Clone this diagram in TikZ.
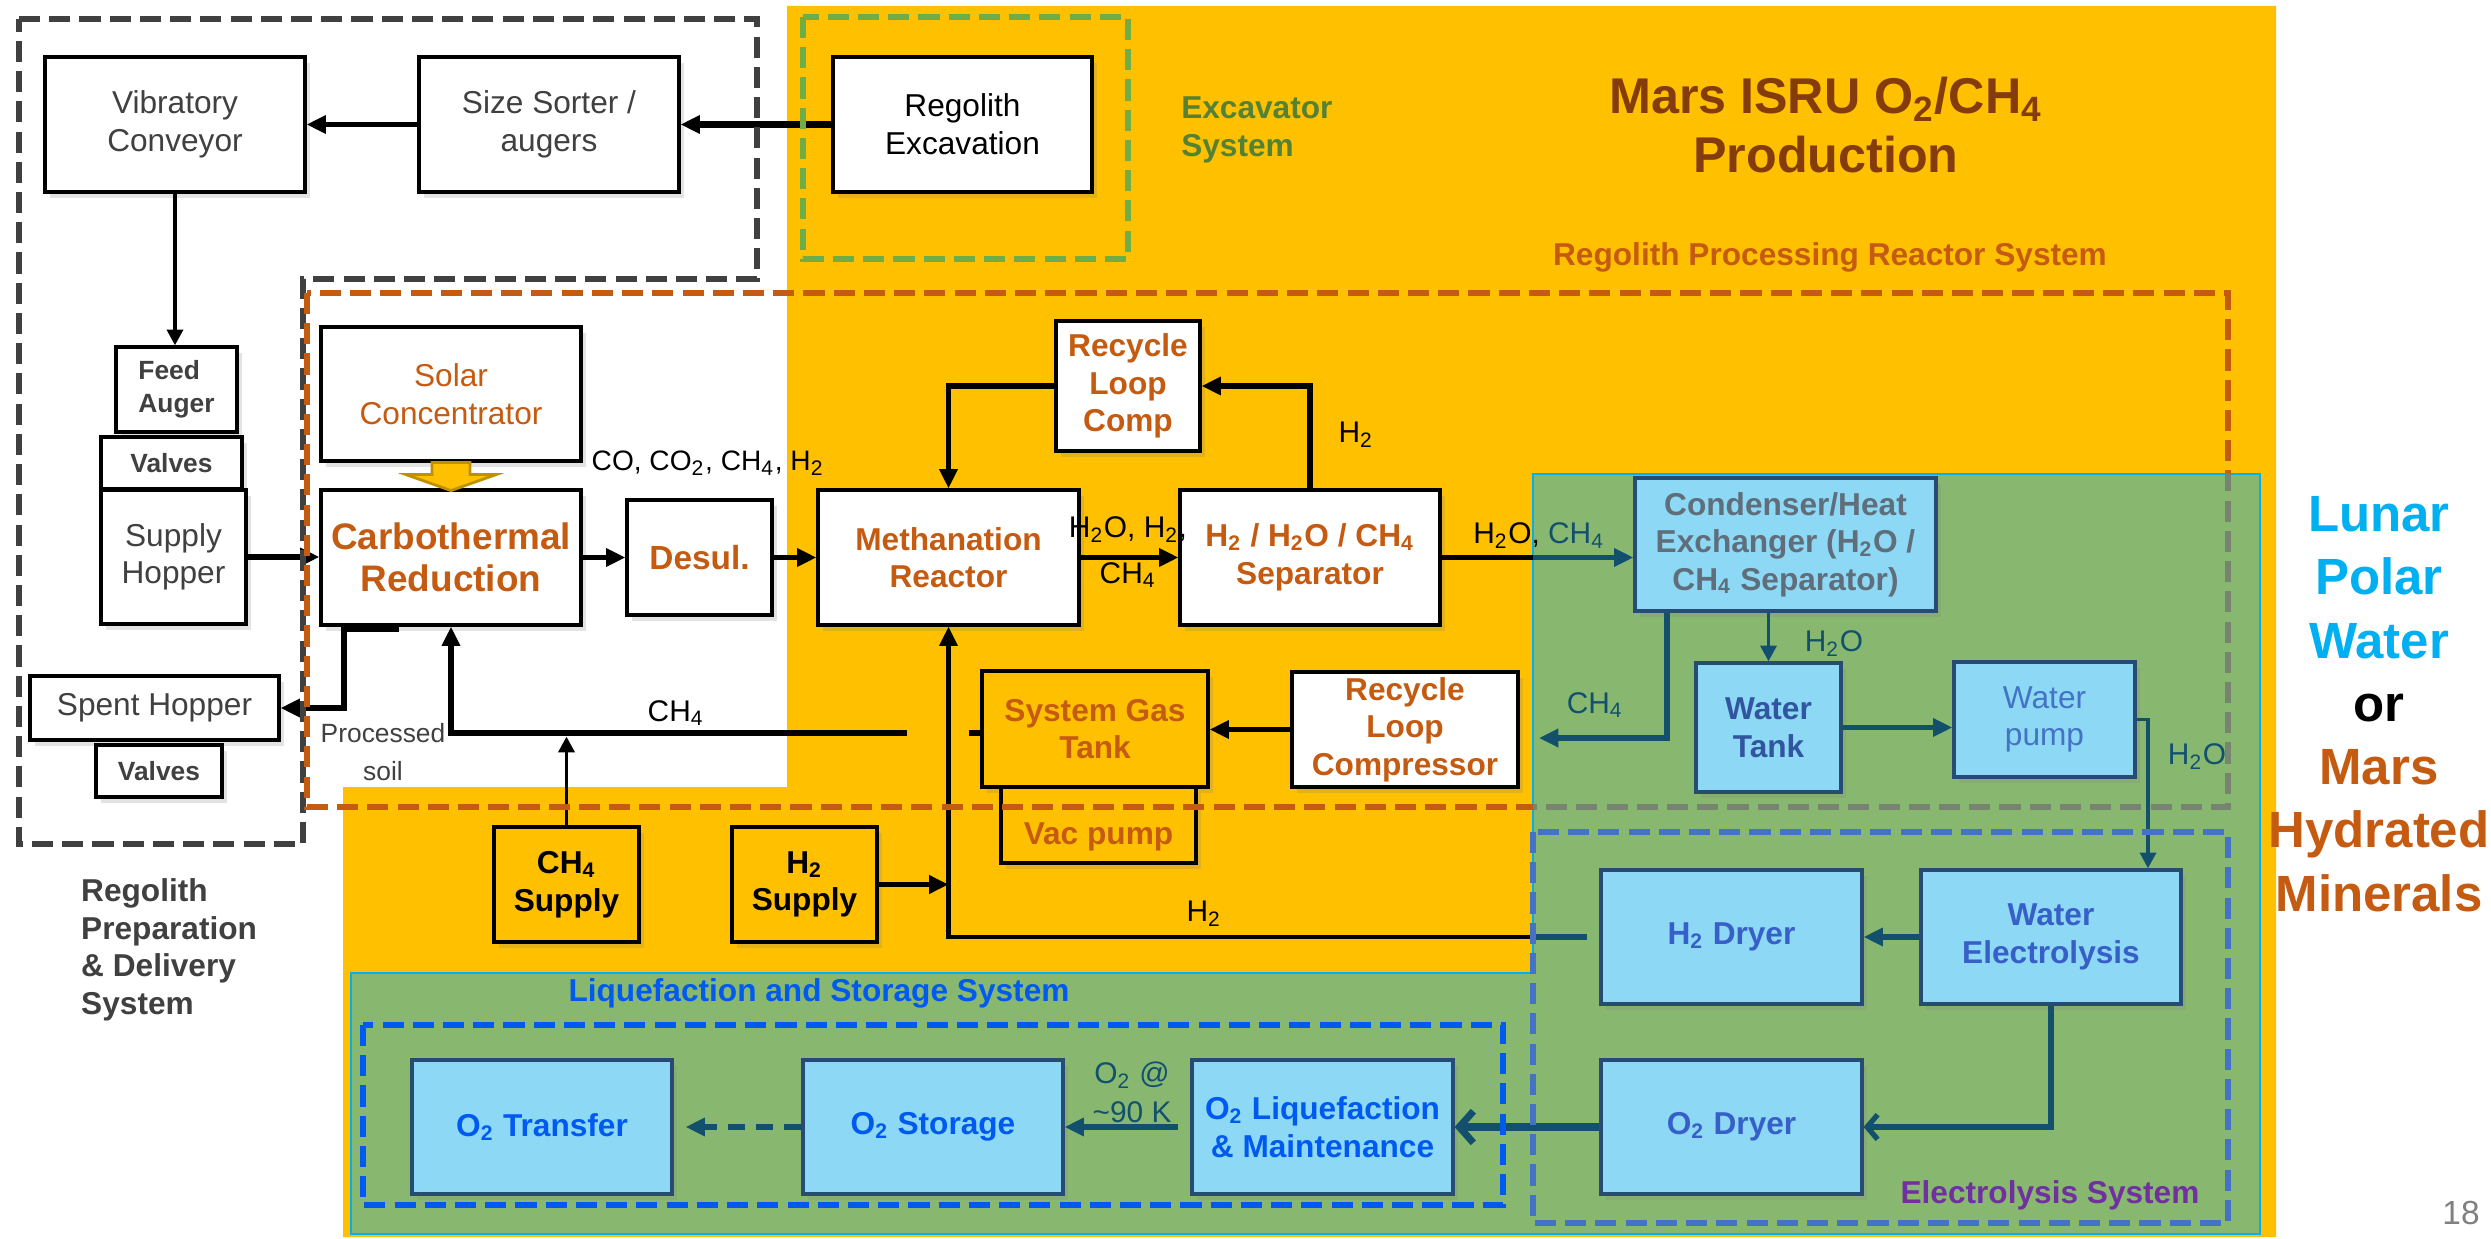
\documentclass[tikz,border=0pt]{standalone}
\usepackage{fontspec}
\setmainfont{Liberation Sans}
\usetikzlibrary{calc,arrows.meta,shadows}

\definecolor{MarsOrange}{RGB}{255,192,0}
\definecolor{DarkGold}{RGB}{191,144,0}
\definecolor{LunarGreen}{RGB}{136,184,112}
\definecolor{LunarCyan}{RGB}{0,176,240}
\definecolor{IceBlue}{RGB}{140,216,245}
\definecolor{EdgeBlue}{RGB}{40,75,115}
\definecolor{Rust}{RGB}{197,90,17}
\definecolor{DarkRust}{RGB}{132,60,12}
\definecolor{ExcGreen}{RGB}{84,130,53}
\definecolor{DashGreen}{RGB}{112,173,71}
\definecolor{Teal}{RGB}{18,80,110}
\definecolor{ElecBlue}{RGB}{68,114,196}
\definecolor{DryerBlue}{RGB}{55,95,200}
\definecolor{TankBlue}{RGB}{50,85,160}
\definecolor{LiqBlue}{RGB}{0,90,240}
\definecolor{CondGray}{RGB}{95,110,122}
\definecolor{PrepGray}{RGB}{64,64,64}
\definecolor{ElecPurple}{RGB}{112,48,160}
\definecolor{FadeDash}{RGB}{118,132,112}

\newcommand{\subs}[1]{\textsubscript{#1}}

\tikzset{
  box/.style={draw=black, line width=0.9pt, fill=white, align=center, inner sep=1pt,
    drop shadow={opacity=0.22, shadow xshift=0.05cm, shadow yshift=-0.06cm}},
  boxsize/.style 2 args={minimum width=#1cm, minimum height=#2cm},
  prepbox/.style={box, text=PrepGray},
  rustbox/.style={box, text=Rust, font=\bfseries},
  goldbox/.style={box, fill=MarsOrange},
  icebox/.style={box, fill=IceBlue, draw=EdgeBlue},
  smallbold/.style={font=\fontsize{7.5}{9.5}\selectfont\bfseries},
  lbl/.style={font=\fontsize{8.5}{10}\selectfont, inner sep=0pt},
  pipe/.style={line width=1.5pt},
  flow/.style={pipe, -{Triangle[length=5.5pt,width=5pt]}},
  thinflow/.style={line width=1.1pt, -{Triangle[length=4.5pt,width=4.5pt]}},
  tealflow/.style={flow, draw=Teal},
  tealthin/.style={thinflow, draw=Teal},
  regionline/.style={line width=1.7pt, dash pattern=on 6pt off 2.6pt},
  sunarrow/.style={fill=MarsOrange, draw=DarkGold, line width=0.8pt},
}

\begin{document}
\fontsize{9}{10.7}\selectfont%
\begin{tikzpicture}

  % --- backgrounds ---
  \fill[white] (0,0) rectangle (24.91,-12.39);
  \useasboundingbox (0,0) rectangle (24.91,-12.39);
  \fill[MarsOrange] (7.87,-0.06) -- (22.76,-0.06) -- (22.76,-12.37)
    -- (3.43,-12.37) -- (3.43,-7.87) -- (7.87,-7.87) -- cycle;
  \filldraw[fill=LunarGreen, draw=LunarCyan, line width=0.8pt] (15.33,-4.74) -- (22.60,-4.74)
    -- (22.60,-12.34) -- (3.51,-12.34) -- (3.51,-9.73) -- (15.33,-9.73) -- cycle;

  % --- (A) Regolith preparation & delivery ---
  \node[box, boxsize={2.59}{1.35}] (regex) at (9.625,-1.245) {Regolith\\Excavation};
  \node[prepbox, boxsize={2.6}{1.35}] (sorter) at (5.49,-1.245) {Size Sorter /\\augers};
  \node[prepbox, boxsize={2.6}{1.35}] (conveyor) at (1.75,-1.245) {Vibratory\\Conveyor};
  \node[prepbox, smallbold, align=left, boxsize={1.21}{0.85}] (feed) at (1.765,-3.895) {Feed\\Auger};
  \node[prepbox, smallbold, boxsize={1.41}{0.52}] (valvesA) at (1.715,-4.63) {Valves};
  \node[prepbox, boxsize={1.45}{1.34}] (hopper) at (1.735,-5.57) {Supply\\Hopper};
  \node[prepbox, boxsize={2.49}{0.64}] (spent) at (1.545,-7.08) {Spent Hopper};
  \node[prepbox, smallbold, boxsize={1.26}{0.52}] (valvesB) at (1.59,-7.71) {Valves};

  % --- (B) Regolith processing reactor ---
  \node[box, text=Rust, boxsize={2.6}{1.34}] (solar) at (4.51,-3.94) {Solar\\Concentrator};
  \node[rustbox, boxsize={2.6}{1.35}, font=\fontsize{10.5}{12}\selectfont\bfseries] (carbo) at (4.51,-5.575) {Carbothermal\\Reduction};
  \node[rustbox, boxsize={1.45}{1.15}, font=\fontsize{9.5}{11}\selectfont\bfseries] (desul) at (6.995,-5.575) {Desul.};
  \node[rustbox, boxsize={2.61}{1.35}] (meth) at (9.485,-5.575) {Methanation\\Reactor};
  \node[rustbox, boxsize={1.44}{1.30}] (rlc) at (11.28,-3.86) {Recycle\\Loop\\Comp};
  \node[rustbox, boxsize={2.6}{1.35}] (sep) at (13.10,-5.575) {H\subs{2} / H\subs{2}O / CH\subs{4}\\Separator};
  \node[rustbox, boxsize={2.26}{1.15}] (rlcomp) at (14.05,-7.295) {Recycle\\Loop\\Compressor};
  \node[goldbox, text=Rust, font=\bfseries, boxsize={2.26}{1.16}] (gastank) at (10.95,-7.29) {System Gas\\Tank};
  \node[goldbox, text=Rust, font=\bfseries, boxsize={1.95}{0.76}] (vac) at (10.985,-8.25) {\raisebox{-5.5pt}[0pt][0pt]{Vac pump}};
  \node[goldbox, font=\bfseries, boxsize={1.45}{1.15}] (ch4sup) at (5.665,-8.845) {CH\subs{4}\\Supply};
  \node[goldbox, font=\bfseries, boxsize={1.45}{1.15}] (h2sup) at (8.045,-8.845) {H\subs{2}\\Supply};

  % solar heat into the reactor
  \draw[sunarrow] (solar.south) ++(-0.19,0) -- ++(0.38,0) -- ++(0,-0.12) -- ++(0.26,0)
    -- ++(-0.45,-0.16) -- ++(-0.45,0.16) -- ++(0.26,0) -- cycle;

  % --- (C) Lunar water / electrolysis ---
  \node[icebox, text=CondGray, font=\bfseries, boxsize={3.01}{1.33}] (cond) at (17.855,-5.445) {Condenser/Heat\\Exchanger (H\subs{2}O /\\CH\subs{4} Separator)};
  \node[icebox, text=TankBlue, font=\bfseries, boxsize={1.45}{1.29}] (wtank) at (17.685,-7.275) {Water\\Tank};
  \node[icebox, text=ElecBlue, boxsize={1.81}{1.15}] (wpump) at (20.445,-7.195) {Water\\pump};
  \node[icebox, text=DryerBlue, font=\bfseries, boxsize={2.61}{1.34}] (h2dry) at (17.315,-9.37) {H\subs{2} Dryer};
  \node[icebox, text=DryerBlue, font=\bfseries, boxsize={2.6}{1.34}] (elec) at (20.51,-9.37) {Water\\Electrolysis};
  \node[icebox, text=DryerBlue, font=\bfseries, boxsize={2.61}{1.34}] (o2dry) at (17.315,-11.27) {O\subs{2} Dryer};

  % --- (D) Liquefaction and storage ---
  \node[icebox, text=LiqBlue, font=\bfseries, boxsize={2.61}{1.34}] (o2liq) at (13.225,-11.27) {O\subs{2} Liquefaction\\\& Maintenance};
  \node[icebox, text=LiqBlue, font=\bfseries, boxsize={2.6}{1.34}] (o2sto) at (9.33,-11.27) {O\subs{2} Storage};
  \node[icebox, text=LiqBlue, font=\bfseries, boxsize={2.6}{1.34}] (o2tr) at (5.42,-11.27) {O\subs{2} Transfer};

  % --- connectors ---
  \coordinate (gx) at (15.33,0);
  \coordinate (soilout) at (3.99,-6.29);
  \coordinate (ch4stub) at (9.69,-7.33);
  \coordinate (ch4gap) at (9.07,-7.33);
  \coordinate (ch4out) at (15.39,-7.38);

  \draw[flow, line width=2pt] (regex.west) -- (sorter.east);
  \draw[flow] (sorter.west) -- (conveyor.east);
  \draw[thinflow] (conveyor.south) -- (conveyor.south |- feed.north);
  \draw[flow] (hopper.east) -- (hopper.east -| carbo.west);
  \draw[flow] (carbo.east) -- (desul.west);
  \draw[flow] (desul.east) -- (meth.west);
  \draw[flow] (meth.east) -- (sep.west);
  \draw[flow] (sep.north) |- (rlc.east);
  \draw[flow] (rlc.west) -| (meth.north);
  \draw[pipe] (sep.east) -- (sep.east -| gx);
  \draw[tealflow] (sep.east -| gx) -- (sep.east -| cond.west);
  \draw[flow] (soilout) -- ++(-0.55,0) |- (spent.east);
  \draw[flow] (rlcomp.west) -- (rlcomp.west -| gastank.east);
  \draw[pipe] (gastank.west |- ch4stub) -- (ch4stub);
  \draw[flow] (ch4gap) -| (carbo.south);
  \draw[thinflow, shorten >=1pt] (ch4sup.north) -- (ch4sup.north |- ch4gap);
  \draw[pipe, Teal, shorten <=0.12cm] (h2dry.west) -- (h2dry.west -| gx);
  \draw[flow, line width=1.3pt] (h2dry.west -| gx) -| (meth.south);
  \draw[flow] (h2sup.east) -- (h2sup.east -| meth.south);

  \draw[tealthin] (cond.south -| wtank.north) -- (wtank.north);
  \draw[tealflow] ($(cond.south west)!0.11!(cond.south east)$) |- (ch4out);
  \draw[tealflow] (wtank.east) -- (wtank.east -| wpump.west);
  \draw[tealthin] (wpump.east) -| ([xshift=0.97cm]elec.north);
  \draw[tealflow] (elec.west) -- (h2dry.east);
  \draw[pipe, Teal, -{Straight Barb[length=3pt,width=7pt]}] (elec.south) |- (o2dry.east);
  \draw[Teal, line width=2pt, -{Straight Barb[length=4pt,width=9pt]}] (o2dry.west) -- (o2liq.east);
  \draw[tealflow, shorten <=0.12cm] (o2liq.west) -- (o2sto.east);
  \draw[tealflow, dash pattern=on 5pt off 3pt, shorten >=0.12cm] (o2sto.west) -- (o2tr.east);

  % --- flow labels ---
  \node[lbl, font=\fontsize{8}{10}\selectfont] (lblmix) at (7.08,-4.63) {CO, CO\subs{2}, CH\subs{4}, H\subs{2}};
  \node[lbl] (lblmeth) at (11.28,-5.30) {H\subs{2}O, H\subs{2},};
  \node[lbl] (lblmethb) at (11.28,-5.75) {CH\subs{4}};
  \node[lbl] (lblrec) at (13.56,-4.35) {H\subs{2}};
  \node[lbl] (lblsep) at (15.39,-5.36) {H\subs{2}O, \textcolor{Teal}{CH\subs{4}}};
  \node[lbl] (lblch4) at (6.76,-7.13) {CH\subs{4}};
  \node[lbl] (lblh2) at (12.04,-9.14) {H\subs{2}};
  \node[lbl, text=PrepGray, align=center, font=\fontsize{7.5}{11}\selectfont] (lblsoil) at (3.83,-7.52) {Processed\\soil};
  \node[lbl, text=Teal] (lblch4b) at (15.95,-7.05) {CH\subs{4}};
  \node[lbl, text=Teal] (lblh2oa) at (18.34,-6.44) {H\subs{2}O};
  \node[lbl, text=Teal] (lblh2ob) at (21.97,-7.57) {H\subs{2}O};
  \node[lbl, text=Teal, align=center, font=\fontsize{8.5}{11}\selectfont] (lblo2) at (11.32,-10.92) {O\subs{2} @\\\textasciitilde90 K};

  % --- system outlines ---
  \draw[regionline, PrepGray] (0.19,-0.19) -- (7.57,-0.19) -- (7.57,-2.79) -- (3.03,-2.79)
    -- (3.03,-8.44) -- (0.19,-8.44) -- cycle;
  \draw[regionline, DashGreen] (8.03,-0.17) rectangle (11.28,-2.59);
  \draw[regionline, Rust] (3.07,-2.93) rectangle (22.28,-8.07);
  \begin{scope}
    \clip (15.33,-4.74) rectangle (22.60,-8.3);
    \draw[regionline, FadeDash] (3.07,-2.93) rectangle (22.28,-8.07);
  \end{scope}
  \draw[regionline, ElecBlue] (15.33,-8.32) rectangle (22.28,-12.23);
  \draw[regionline, LiqBlue] (3.63,-10.25) rectangle (15.03,-12.05);

  % --- titles ---
  \node[text=ExcGreen, font=\bfseries, align=left, anchor=west] (exclabel) at (11.70,-1.30) {Excavator\\System};
  \node[text=DarkRust, font=\fontsize{14.3}{16.8}\selectfont\bfseries, align=center] (title) at (18.26,-1.25) {Mars ISRU O\subs{2}/CH\subs{4}\\Production};
  \node[text=Rust, font=\bfseries] (rprlabel) at (18.30,-2.57) {Regolith Processing Reactor System};
  \node[text=PrepGray, font=\bfseries, align=left, anchor=west] (preplabel) at (0.70,-9.50) {Regolith\\Preparation\\\& Delivery\\System};
  \node[text=LiqBlue, font=\bfseries] (liqlabel) at (8.19,-9.93) {Liquefaction and Storage System};
  \node[text=ElecPurple, font=\bfseries] (eleclabel) at (20.50,-11.95) {Electrolysis System};
  \node[font=\fontsize{14.5}{18}\selectfont\bfseries, align=center] (sourcelabel) at (23.79,-7.04)
    {\textcolor{LunarCyan}{Lunar}\\\textcolor{LunarCyan}{Polar}\\\textcolor{LunarCyan}{Water}\\or\\
     \textcolor{Rust}{Mars}\\\textcolor{Rust}{Hydrated}\\\textcolor{Rust}{Minerals}};
  \node[text=gray, font=\fontsize{9.5}{11}\selectfont] (pagenum) at (24.61,-12.13) {18};

\end{tikzpicture}
\end{document}
